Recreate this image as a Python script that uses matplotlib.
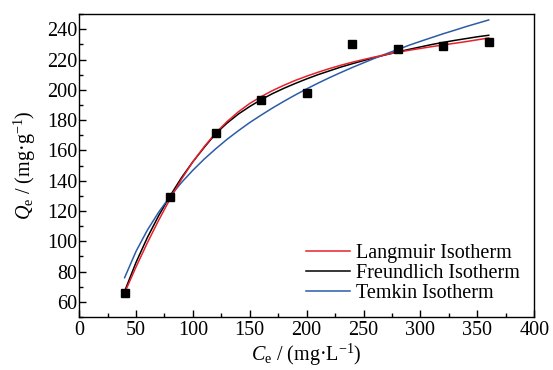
import numpy as np
import matplotlib
matplotlib.use("Agg")
import matplotlib.pyplot as plt
from matplotlib.ticker import MultipleLocator

plt.rcParams['font.family'] = ['Liberation Serif', 'DejaVu Serif']
plt.rcParams['mathtext.fontset'] = 'custom'
plt.rcParams['mathtext.rm'] = 'Liberation Serif'
plt.rcParams['mathtext.it'] = 'Liberation Serif:italic'

# measured points
ce_data = [40, 80, 120, 160, 200, 240, 280, 320, 360]
qe_data = [66.2, 129.4, 171.7, 193.2, 198.0, 230.4, 226.9, 228.9, 231.8]

# fitted curves
ce_fit = [40, 50, 60, 70, 80, 90, 100, 110, 120, 130, 140, 150, 160, 170, 180,
          190, 200, 210, 220, 230, 240, 250, 260, 270, 280, 290, 300, 310, 320,
          330, 340, 350, 360]
langmuir = [66, 83, 99, 114, 128, 141, 152.5, 162.5, 171.5, 179, 185.5, 191,
            195.5, 199.5, 203, 206.2, 209, 211.6, 214, 216.2, 218.2, 220, 221.7,
            223.3, 224.8, 226.1, 227.3, 228.5, 229.6, 230.7, 231.8, 233, 234.2]
freundlich = [67, 86, 102.5, 117, 130, 142, 152.5, 162, 171, 178, 184, 189,
              193.5, 197.5, 201, 204.2, 207.2, 210, 212.5, 215, 217.2, 219.3,
              221.3, 223.2, 225, 226.7, 228.3, 229.9, 231.3, 232.6, 233.8, 235,
              236]
temkin = [76.0, 93.3, 107.4, 119.3, 129.7, 138.8, 146.9, 154.3, 161.0, 167.3,
          173.0, 178.4, 183.3, 188.0, 192.4, 196.6, 200.6, 204.4, 208.0, 211.4,
          214.7, 217.8, 220.9, 223.8, 226.6, 229.4, 232.0, 234.5, 237.0, 239.3,
          241.7, 243.9, 246.1]

fs = 14.5

fig = plt.figure(figsize=(5.53, 3.70), dpi=100)
ax = fig.add_axes([0.143, 0.143, 0.823, 0.819])

ax.plot(ce_fit, langmuir, color='#e8202a', lw=1.1, label='Langmuir Isotherm', zorder=3)
ax.plot(ce_fit, freundlich, color='black', lw=1.1, label='Freundlich Isotherm', zorder=2)
ax.plot(ce_fit, temkin, color='#2b5ca8', lw=1.1, label='Temkin Isotherm', zorder=2)
ax.plot(ce_data, qe_data, 's', color='black', ms=5.6, zorder=4)

ax.set_xlim(0, 400)
ax.set_ylim(50, 250)
ax.xaxis.set_major_locator(MultipleLocator(50))
ax.xaxis.set_minor_locator(MultipleLocator(25))
ax.yaxis.set_minor_locator(MultipleLocator(10))
ax.set_yticks(range(60, 250, 20))
ax.tick_params(which='both', direction='in', top=False, right=False, labelsize=fs)
ax.tick_params(which='major', length=5, width=1)
ax.tick_params(which='minor', length=3, width=1)
ax.tick_params(axis='x', which='major', pad=3)
ax.tick_params(axis='y', which='major', pad=1)
for s in ax.spines.values():
    s.set_linewidth(1)

ax.set_xlabel(r'$C_\mathrm{e}$ / (mg·L$^{-1}$)', fontsize=fs, labelpad=1)
ax.set_ylabel(r'$Q_\mathrm{e}$ / (mg·g$^{-1}$)', fontsize=fs, labelpad=7)

ax.legend(loc='lower right', frameon=False, fontsize=fs, handlelength=2.2,
          handletextpad=0.3, labelspacing=0.05, borderaxespad=0.3)

fig.savefig('out.png', dpi=100)
